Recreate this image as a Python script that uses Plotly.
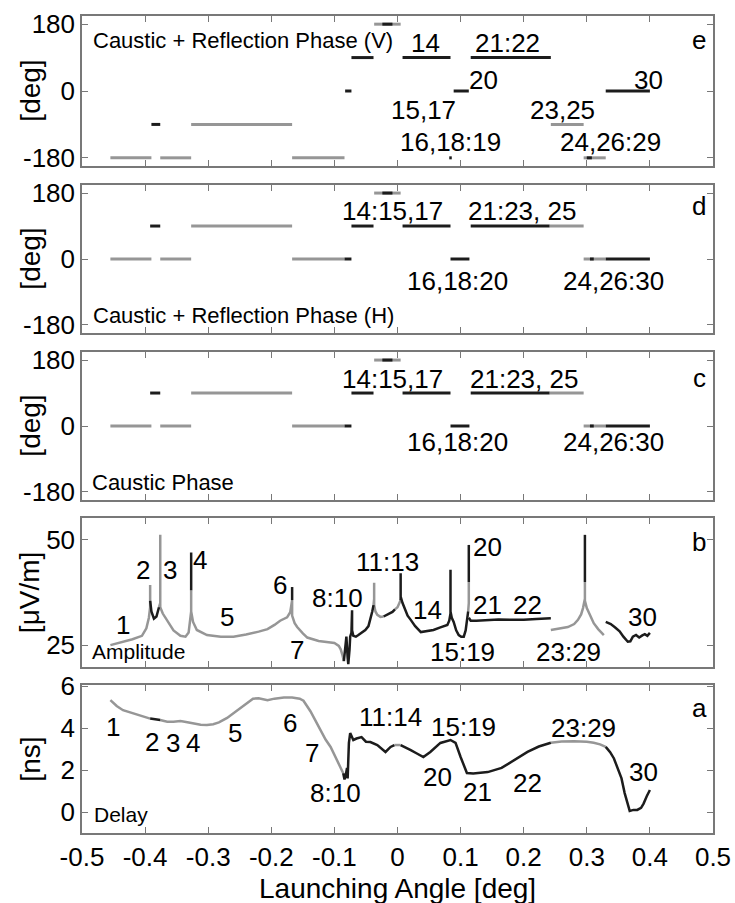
import plotly.graph_objects as go

GRAY = "rgb(150,150,150)"
BLACK = "rgb(28,28,28)"
AXC = "rgb(120,120,120)"
FONT = "Liberation Sans, Arial, Helvetica, sans-serif"

# ---------------- data ----------------
x_ticks = [-0.5, -0.4, -0.3, -0.2, -0.1, 0, 0.1, 0.2, 0.3, 0.4, 0.5]
x_tick_labels = ["-0.5", "-0.4", "-0.3", "-0.2", "-0.1", "0", "0.1", "0.2", "0.3", "0.4", "0.5"]
phase_ticks = [-180, 0, 180]
phase_tick_labels = ["-180", "0", "180"]
amp_ticks = [25, 50]
amp_tick_labels = ["25", "50"]
delay_ticks = [0, 2, 4, 6]
delay_tick_labels = ["0", "2", "4", "6"]

# Panel e: Caustic + Reflection Phase (V)
e_gray_start = [-0.455, -0.376, -0.327, -0.167, -0.037, 0.243, 0.295]
e_gray_end = [-0.390, -0.327, -0.167, -0.084, 0.005, 0.295, 0.330]
e_gray_phase = [-180, -180, -90, -180, 180, -90, -180]
e_black_start = [-0.390, -0.083, -0.073, -0.024, 0.008, 0.082, 0.089, 0.116, 0.300, 0.330]
e_black_end = [-0.376, -0.073, -0.038, -0.008, 0.084, 0.086, 0.113, 0.243, 0.308, 0.400]
e_black_phase = [-90, 0, 90, 180, 90, -180, 0, 90, -180, 0]

# Panels c and d: Caustic Phase / Caustic + Reflection Phase (H)
cd_gray_start = [-0.455, -0.376, -0.327, -0.167, -0.037, 0.241, 0.295]
cd_gray_end = [-0.390, -0.327, -0.167, -0.084, 0.005, 0.295, 0.330]
cd_gray_phase = [0, 0, 90, 0, 180, 90, 0]
cd_black_start = [-0.392, -0.084, -0.073, -0.024, 0.008, 0.084, 0.116, 0.305, 0.330]
cd_black_end = [-0.376, -0.073, -0.038, -0.008, 0.084, 0.114, 0.241, 0.311, 0.400]
cd_black_phase = [90, 0, 90, 180, 90, 0, 90, 0, 0]

# Panel b: Amplitude [uV/m]  (None separates pieces)
amp_gray_x = [-0.455, -0.44, -0.42, -0.405, -0.398, -0.394, -0.392, -0.392, None,
              -0.378, -0.376, -0.376, -0.376, -0.372, -0.365, -0.355, -0.344, -0.336, -0.331, -0.329,
              -0.327, -0.327, -0.327, -0.324, -0.318, -0.302, -0.28, -0.26, -0.24, -0.22, -0.206,
              -0.195, -0.186, -0.175, -0.17, -0.167, -0.167, -0.163, -0.159, -0.15, -0.143, -0.125,
              -0.11, -0.1, -0.093, -0.09, -0.087, -0.085, None,
              -0.038, -0.037, -0.037, -0.037, -0.035, -0.032, -0.027, -0.022, None,
              -0.004, 0.0, 0.003, 0.005, None,
              0.112, 0.113, 0.113, None,
              0.243, 0.255, 0.27, 0.28, 0.286, 0.291, 0.294, 0.297, 0.297, 0.297, 0.300, 0.303,
              0.307, 0.311, 0.318, 0.327]
amp_gray_y = [25.0, 25.6, 26.4, 27.2, 29.0, 31.5, 34.0, 39.3, None,
              34.0, 35.0, 51.2, 34.0, 32.5, 30.8, 28.5, 27.2, 27.0, 28.0, 30.5,
              33.0, 38.0, 33.0, 30.5, 28.6, 27.4, 27.0, 27.0, 27.5, 28.2, 28.8,
              29.8, 30.8, 31.6, 32.8, 35.7, 32.0, 30.2, 29.3, 27.8, 26.8, 26.0,
              25.7, 25.5, 24.8, 24.0, 22.5, 21.2, None,
              34.5, 36.0, 39.8, 34.5, 33.0, 32.2, 31.7, 31.8, None,
              33.5, 34.0, 35.0, 35.7, None,
              33.0, 35.0, 40.0, None,
              28.6, 28.9, 29.3, 30.0, 31.0, 32.3, 33.8, 36.0, 40.0, 35.5, 33.8, 32.8,
              31.3, 30.2, 28.8, 27.4]
amp_black_x = [-0.392, -0.390, -0.386, -0.382, -0.378, None,
               -0.327, -0.327, None,
               -0.167, -0.167, None,
               -0.085, -0.083, -0.081, -0.079, -0.078, -0.076, -0.075, -0.073, -0.072, -0.072,
               -0.070, -0.066, -0.062, -0.056, -0.051, -0.046, -0.043, -0.040, -0.038, None,
               -0.022, -0.015, -0.008, -0.004, None,
               0.005, 0.005, 0.005, 0.008, 0.012, 0.016, 0.021, 0.028, 0.037, 0.047, 0.057,
               0.068, 0.079, 0.082, 0.084, 0.084, 0.084, 0.086, 0.089, 0.093, 0.097, 0.101,
               0.105, 0.108, 0.110, 0.112, None,
               0.113, 0.113, None,
               0.113, 0.116, 0.125, 0.14, 0.16, 0.18, 0.2, 0.22, 0.243, None,
               0.297, 0.297, None,
               0.330, 0.338, 0.345, 0.352, 0.358, 0.365, 0.369, 0.373, 0.378, 0.383, 0.388,
               0.392, 0.396, 0.400]
amp_black_y = [35.5, 33.0, 31.3, 31.8, 34.0, None,
               38.0, 47.0, None,
               35.7, 38.8, None,
               21.2, 24.0, 27.0, 22.0, 20.5, 24.0, 27.0, 28.0, 33.3, 28.5,
               27.2, 27.0, 27.4, 28.0, 28.6, 29.5, 31.0, 33.0, 34.5, None,
               31.8, 32.3, 32.9, 33.5, None,
               35.7, 42.1, 36.5, 35.0, 33.5, 32.0, 31.0, 29.5, 28.1, 28.3, 28.6,
               29.2, 29.8, 30.8, 32.5, 42.9, 33.0, 31.5, 30.5, 28.5, 27.4, 27.0,
               27.0, 28.5, 31.0, 33.0, None,
               40.0, 48.8, None,
               31.5, 30.8, 30.8, 31.0, 31.1, 31.0, 31.0, 31.2, 31.4, None,
               40.0, 51.2, None,
               30.5, 30.0, 29.2, 28.3, 27.0, 25.8, 25.9, 27.0, 27.4, 26.8, 27.3,
               27.6, 27.2, 27.9]

# Panel a: Delay [ns]
delay_gray_x = [-0.455, -0.445, -0.435, -0.419, -0.405, -0.392, None,
                -0.376, -0.365, -0.355, -0.344, -0.333, -0.323, -0.312, -0.302, -0.292, -0.283,
                -0.270, -0.260, -0.249, -0.238, -0.229, -0.22, -0.206, -0.195, -0.18, -0.167,
                -0.155, -0.149, -0.143, -0.138, -0.130, -0.122, -0.114, -0.106, -0.100, -0.095,
                -0.090, -0.086, None,
                -0.005, 0.0, 0.005, None,
                0.243, 0.26, 0.28, 0.3, 0.311, 0.321, 0.330]
delay_gray_y = [5.33, 5.05, 4.85, 4.70, 4.55, 4.45, None,
                4.38, 4.30, 4.30, 4.33, 4.28, 4.22, 4.16, 4.14, 4.18, 4.27,
                4.48, 4.70, 4.95, 5.22, 5.40, 5.42, 5.33, 5.40, 5.45, 5.45,
                5.40, 5.30, 5.05, 4.80, 4.35, 3.90, 3.45, 3.10, 2.75, 2.40,
                2.10, 1.85, None,
                3.19, 3.20, 3.19, None,
                3.30, 3.36, 3.37, 3.35, 3.30, 3.22, 3.10]
delay_black_x = [-0.392, -0.384, -0.376, None,
                 -0.086, -0.084, -0.082, -0.080, -0.079, -0.078, -0.077, -0.075, -0.070, -0.065,
                 -0.057, -0.050, -0.043, -0.032, -0.019, -0.011, -0.005, None,
                 0.005, 0.013, 0.021, 0.030, 0.041, 0.052, 0.060, 0.068, 0.084, 0.092, 0.100,
                 0.106, 0.110, 0.120, 0.130, 0.143, 0.165, 0.185, 0.206, 0.224, 0.243, None,
                 0.330, 0.337, 0.343, 0.349, 0.355, 0.360, 0.365, 0.368, 0.374, 0.380, 0.386,
                 0.390, 0.395, 0.400]
delay_black_y = [4.45, 4.42, 4.38, None,
                 1.85, 1.55, 1.75, 2.10, 1.60, 2.60, 3.30, 3.76, 3.43, 3.50,
                 3.57, 3.35, 3.33, 3.19, 2.86, 3.10, 3.19, None,
                 3.19, 3.05, 2.95, 2.80, 2.62, 2.86, 3.10, 3.29, 3.43, 3.29, 2.62,
                 2.10, 1.86, 1.84, 1.86, 1.90, 2.10, 2.48, 2.86, 3.12, 3.30, None,
                 3.10, 2.85, 2.55, 2.10, 1.60, 0.90, 0.30, 0.05, 0.10, 0.10, 0.20,
                 0.40, 0.75, 1.05]


def segments(starts, ends, vals):
    xs, ys = [], []
    for s, e, v in zip(starts, ends, vals):
        xs += [s, e, None]
        ys += [v, v, None]
    return xs, ys


fig = go.Figure()

# axis ids: a -> x/y, b -> x2/y2, c -> x3/y3, d -> x4/y4, e -> x5/y5
def add_line(x, y, color, width, xa, ya):
    fig.add_trace(go.Scatter(x=x, y=y, mode="lines", line=dict(color=color, width=width),
                             xaxis=xa, yaxis=ya, showlegend=False, hoverinfo="skip",
                             connectgaps=False))

for ax in ["4", "3"]:
    gx, gy = segments(cd_gray_start, cd_gray_end, cd_gray_phase)
    bx, by = segments(cd_black_start, cd_black_end, cd_black_phase)
    add_line(gx, gy, GRAY, 3, "x" + ax, "y" + ax)
    add_line(bx, by, BLACK, 3, "x" + ax, "y" + ax)

gx, gy = segments(e_gray_start, e_gray_end, e_gray_phase)
bx, by = segments(e_black_start, e_black_end, e_black_phase)
add_line(gx, gy, GRAY, 3, "x5", "y5")
add_line(bx, by, BLACK, 3, "x5", "y5")

add_line(amp_gray_x, amp_gray_y, GRAY, 2.5, "x2", "y2")
add_line(amp_black_x, amp_black_y, BLACK, 2.5, "x2", "y2")
add_line(delay_gray_x, delay_gray_y, GRAY, 2.5, "x", "y")
add_line(delay_black_x, delay_black_y, BLACK, 2.5, "x", "y")

# ---------------- layout ----------------
H_PLOT = 817.0
def dom(top_px, bot_px):
    return [(833 - bot_px) / H_PLOT, (833 - top_px) / H_PLOT]

domains = {"": dom(685, 833), "2": dom(518, 667), "3": dom(352, 500),
           "4": dom(185, 333), "5": dom(16, 166)}

common_x = dict(range=[-0.5, 0.5], tickvals=x_ticks, ticktext=x_tick_labels,
                ticks="inside", ticklen=6, tickwidth=1.2, tickcolor=AXC,
                showline=True, linecolor=AXC, linewidth=1.5, mirror="ticks",
                showgrid=False, zeroline=False, automargin=False,
                tickfont=dict(size=26, color="black", family=FONT))
common_y = dict(ticks="inside", ticklen=6, tickwidth=1.2, tickcolor=AXC,
                showline=True, linecolor=AXC, linewidth=1.5, mirror="ticks",
                showgrid=False, zeroline=False, automargin=False,
                tickfont=dict(size=26, color="black", family=FONT))

layout = {}
yranges = {"": [-1, 6.05], "2": [19.8, 55.2], "3": [-202, 202], "4": [-202, 202], "5": [-202, 202]}
yticks = {"": (delay_ticks, delay_tick_labels), "2": (amp_ticks, amp_tick_labels),
          "3": (phase_ticks, phase_tick_labels), "4": (phase_ticks, phase_tick_labels),
          "5": (phase_ticks, phase_tick_labels)}
for k in ["", "2", "3", "4", "5"]:
    xa = dict(common_x)
    xa["anchor"] = "y" + k
    xa["domain"] = [0, 1]
    if k != "":
        xa["showticklabels"] = False
        xa["matches"] = "x"
    layout["xaxis" + k] = xa
    ya = dict(common_y)
    ya["anchor"] = "x" + k
    ya["domain"] = domains[k]
    ya["range"] = yranges[k]
    ya["tickvals"] = yticks[k][0]
    ya["ticktext"] = yticks[k][1]
    layout["yaxis" + k] = ya

fig.update_layout(**layout)

annots = []
def txt(text, x, y, ax, size=26, xanchor="center"):
    annots.append(dict(text=text, x=x, y=y, xref="x" + ax, yref="y" + ax, showarrow=False,
                       xanchor=xanchor, yanchor="middle",
                       font=dict(size=size, color="black", family=FONT)))

# panel e
txt("Caustic + Reflection Phase (V)", -0.486, 137, "5", size=22, xanchor="left")
for t, x, y in [("14", 0.044, 129), ("21:22", 0.175, 129), ("20", 0.137, 30),
                ("15,17", 0.041, -51), ("23,25", 0.262, -51), ("16,18:19", 0.084, -137),
                ("24,26:29", 0.338, -137), ("30", 0.397, 30), ("e", 0.478, 137)]:
    txt(t, x, y, "5")
# panel d
txt("Caustic + Reflection Phase (H)", -0.486, -155, "4", size=22, xanchor="left")
for t, x, y in [("14:15,17", -0.008, 131), ("21:23, 25", 0.197, 131),
                ("16,18:20", 0.095, -60), ("24,26:30", 0.343, -60), ("d", 0.478, 145)]:
    txt(t, x, y, "4")
# panel c
txt("Caustic Phase", -0.487, -154, "3", size=22, xanchor="left")
for t, x, y in [("14:15,17", -0.008, 127), ("21:23, 25", 0.2, 127),
                ("16,18:20", 0.095, -45), ("24,26:30", 0.343, -45), ("c", 0.478, 132)]:
    txt(t, x, y, "3")
# panel b
txt("Amplitude", -0.487, 23.6, "2", size=21, xanchor="left")
for t, x, y in [("1", -0.435, 29.8), ("2", -0.403, 42.9), ("3", -0.36, 42.9), ("4", -0.313, 45.2),
                ("5", -0.27, 31.7), ("6", -0.187, 39.3), ("7", -0.159, 23.8), ("8:10", -0.095, 36.2),
                ("11:13", -0.016, 44.8), ("14", 0.048, 33.3), ("15:19", 0.103, 23.3),
                ("20", 0.143, 48.3), ("21", 0.143, 34.5), ("22", 0.206, 34.5),
                ("23:29", 0.271, 23.3), ("30", 0.389, 31.7), ("b", 0.478, 49.5)]:
    txt(t, x, y, "2")
# panel a
txt("Delay", -0.484, -0.14, "", size=21, xanchor="left")
for t, x, y in [("1", -0.451, 4.05), ("2", -0.389, 3.33), ("3", -0.356, 3.29), ("4", -0.324, 3.29),
                ("5", -0.257, 3.76), ("6", -0.17, 4.24), ("7", -0.135, 2.81), ("8:10", -0.098, 0.9),
                ("11:14", -0.011, 4.52), ("15:19", 0.105, 4.05), ("20", 0.063, 1.67),
                ("21", 0.127, 0.95), ("22", 0.206, 1.38), ("23:29", 0.294, 4.0),
                ("30", 0.39, 1.9), ("a", 0.478, 4.95)]:
    txt(t, x, y, "")

# y-axis titles
for k, t in [("5", "[deg]"), ("4", "[deg]"), ("3", "[deg]"), ("2", "[μV/m]"), ("", "[ns]")]:
    annots.append(dict(text=t, x=-0.083, y=0.5, xref="paper", yref="y" + k + " domain",
                       showarrow=False, textangle=-90, xanchor="center", yanchor="middle",
                       font=dict(size=28, color="black", family=FONT)))

# x-axis title
annots.append(dict(text="Launching Angle [deg]", x=(397 - 82) / 631.0, y=0, xref="paper",
                   yref="y domain", yshift=-(888 - 833), showarrow=False,
                   xanchor="center", yanchor="middle",
                   font=dict(size=28, color="black", family=FONT)))

fig.update_layout(annotations=annots, width=735, height=903,
                  margin=dict(l=82, r=22, t=16, b=70, autoexpand=False),
                  paper_bgcolor="white", plot_bgcolor="white", showlegend=False,
                  font=dict(family=FONT, color="black"))

fig.write_html("out.html", config={"displayModeBar": False},
               post_script="document.body.style.margin='0';")
